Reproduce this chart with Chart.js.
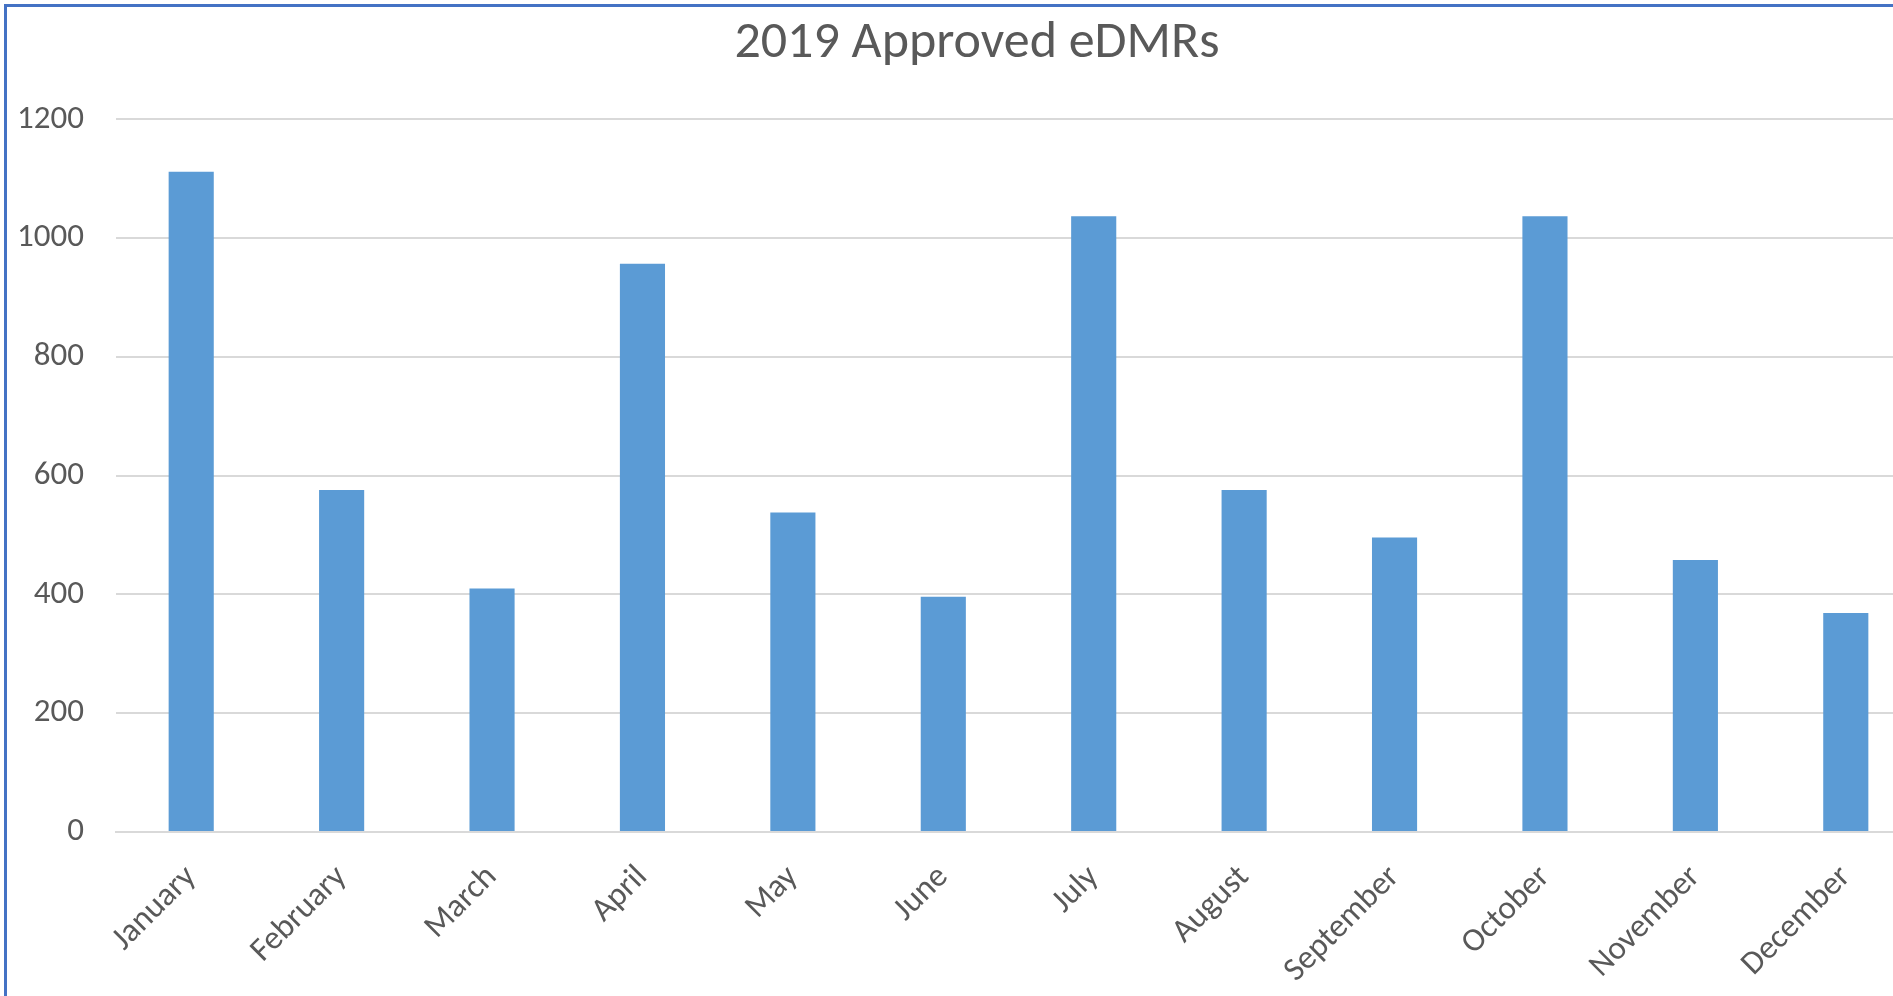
<!DOCTYPE html>
<html>
<head>
<meta charset="utf-8">
<script src="https://cdn.jsdelivr.net/npm/chart.js@4.4.1/dist/chart.umd.min.js"></script>
<style>
  html, body { margin: 0; padding: 0; background: #fff; overflow: hidden; }
  #wrap {
    position: absolute; left: 4px; top: 4px;
    width: 1940px; height: 1060px;
    border-left: 3px solid #4472c4; border-top: 3px solid #4472c4;
  }
</style>
</head>
<body>
<div id="wrap"><canvas id="edmrChart"></canvas></div>
<script>
const months = ['January', 'February', 'March', 'April', 'May', 'June',
  'July', 'August', 'September', 'October', 'November', 'December'];
const approved = [1112, 576, 410, 957, 538, 396, 1037, 576, 496, 1037, 458, 369];
const yTicks = [0, 200, 400, 600, 800, 1000, 1200];

const textColor = '#595959';
const gridColor = '#d9d9d9';
const fontFamily = 'Carlito, Lato, sans-serif';

const ctx = document.getElementById('edmrChart').getContext('2d');

let chart = new Chart(ctx, {
  type: 'bar',
  data: {
    labels: months,
    datasets: [{
      label: 'Approved eDMRs',
      data: approved,
      backgroundColor: '#5b9bd5',
      borderWidth: 0,
      categoryPercentage: 1,
      barPercentage: 0.3
    }]
  },
  options: {
    responsive: true,
    maintainAspectRatio: false,
    animation: false,
    layout: { padding: 0 },
    plugins: {
      legend: { display: false },
      tooltip: { enabled: false },
      title: {
        display: true,
        text: '2019 Approved eDMRs',
        color: textColor,
        font: { family: fontFamily, size: 52, weight: 'normal' },
        padding: { top: 6, bottom: 44 }
      }
    },
    scales: {
      x: {
        grid: { display: false, drawTicks: false },
        border: { display: true, color: gridColor, width: 2 },
        ticks: {
          color: textColor,
          font: { family: fontFamily, size: 33 },
          minRotation: 45,
          maxRotation: 45,
          padding: 26,
          autoSkip: false
        },
        afterFit: function (scale) { scale.height = 235; }
      },
      y: {
        min: 0,
        max: 1200,
        afterBuildTicks: function (scale) {
          scale.ticks = yTicks.map(v => ({ value: v }));
        },
        grid: { color: gridColor, lineWidth: 2, drawTicks: false },
        border: { display: false },
        ticks: {
          color: textColor,
          font: { family: fontFamily, size: 33 },
          padding: 32,
          callback: v => String(v)
        },
        afterFit: function (scale) { scale.width = 109; }
      },
      // empty strip on the right so the plot stops short of the frame edge
      gap: {
        position: 'right',
        display: true,
        grid: { display: false },
        border: { display: false },
        ticks: { display: false },
        afterFit: function (scale) { scale.width = 26; }
      }
    }
  }
});
</script>
</body>
</html>
